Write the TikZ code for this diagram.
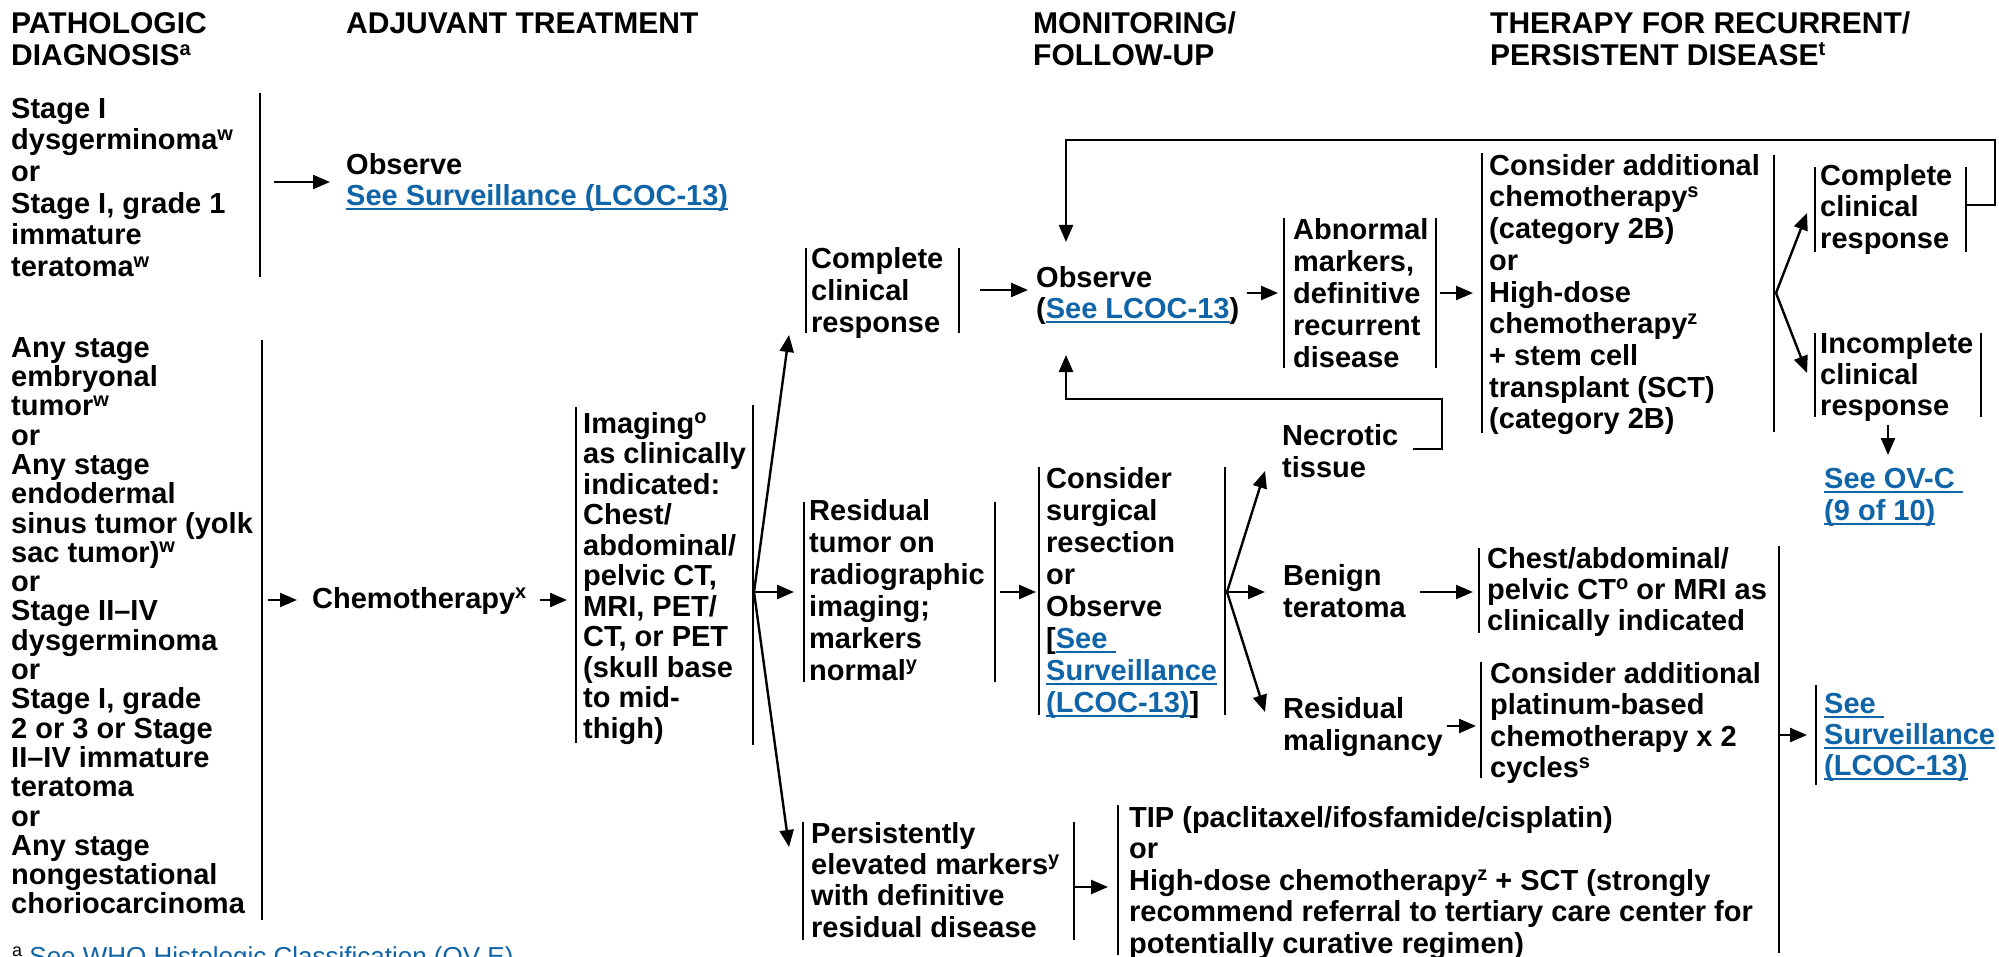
\documentclass[tikz,border=0pt]{standalone}
\usepackage{fontspec}
\setmainfont{Liberation Sans}
\usetikzlibrary{arrows.meta}
\definecolor{linkblue}{RGB}{16,100,168}
\newcommand\supr[1]{\raisebox{9.5pt}{\fontsize{20}{20}\selectfont #1}}
\newcommand\lnk[1]{{\color{linkblue}\setbox0=\hbox{#1}\rlap{\rule[-5pt]{\wd0}{2pt}}\box0}}
\newcommand\fs{\rule{0pt}{26pt}}
\tikzset{
  txt/.style={anchor=north west, inner sep=0pt, align=left,
    font={\fontsize{29}{#1}\selectfont\bfseries\lineskiplimit=-100pt}},
  txt/.default=31.7,
  hdr/.style={anchor=north west, inner sep=0pt, align=left,
    font={\fontsize{30}{32}\selectfont\bfseries}},
  bar/.style={line width=2.4pt},
  arr/.style={line width=2.4pt, -{Triangle[length=17pt,width=14pt]}},
  lp/.style={line width=2.6pt, -{Triangle[length=17pt,width=14pt]}},
}
\begin{document}
\begin{tikzpicture}[x=1pt,y=-1pt]
\useasboundingbox (0,0) rectangle (1999,957);
% headers
\node[hdr] (hPath) at (11,7) {\fs PATHOLOGIC\\DIAGNOSIS\supr{a}};
\node[hdr] (hAdj) at (346,7) {\fs ADJUVANT TREATMENT};
\node[hdr] (hMon) at (1033,7) {\fs MONITORING/\\FOLLOW-UP};
\node[hdr] (hTher) at (1490,7) {\fs THERAPY FOR RECURRENT/\\PERSISTENT DISEASE\supr{t}};
% text nodes
\node[txt] (g1) at (11,92) {\fs Stage I\\dysgerminoma\supr{w}\\or\\Stage I, grade 1\\immature\\teratoma\supr{w}};
\node[txt=31] (obs1) at (346,148) {\fs Observe\\\lnk{See Surveillance (LCOC-13)}};
\node[txt=29.3] (g2) at (11,331) {\fs Any stage\\embryonal\\tumor\supr{w}\\or\\Any stage\\endodermal\\sinus tumor (yolk\\sac tumor)\supr{w}\\or\\Stage II–IV\\dysgerminoma\\or\\Stage I, grade\\2 or 3 or Stage\\II–IV immature\\teratoma\\or\\Any stage\\nongestational\\choriocarcinoma};
\node[txt] (chemo) at (312,582) {\fs Chemotherapy\supr{x}};
\node[txt=30.5] (img) at (583,407) {\fs Imaging\supr{o}\\as clinically\\indicated:\\Chest/\\abdominal/\\pelvic CT,\\MRI, PET/\\CT, or PET\\(skull base\\to mid-\\thigh)};
\node[txt=32] (cr1) at (811,242) {\fs Complete\\clinical\\response};
\node[txt=32] (resid) at (809,494) {\fs Residual\\tumor on\\radiographic\\imaging;\\markers\\normal\supr{y}};
\node[txt=31.3] (pers) at (811,817) {\fs Persistently\\elevated markers\supr{y}\\with definitive\\residual disease};
\node[txt=31] (obs2) at (1036,261) {\fs Observe\\(\lnk{See LCOC-13})};
\node[txt=32] (abn) at (1293,213) {\fs Abnormal\\markers,\\definitive\\recurrent\\disease};
\node[txt=31.7] (cac) at (1489,149) {\fs Consider additional\\chemotherapy\supr{s}\\(category 2B)\\or\\High-dose\\chemotherapy\supr{z}\\+ stem cell\\transplant (SCT)\\(category 2B)};
\node[txt=31.5] (cr2) at (1820,159) {\fs Complete\\clinical\\response};
\node[txt=31] (inc) at (1820,327) {\fs Incomplete\\clinical\\response};
\node[txt=32] (ovc) at (1824,462) {\fs\lnk{See OV-C }\\\lnk{(9 of 10)}};
\node[txt=32] (cons) at (1046,462) {\fs Consider\\surgical\\resection\\or\\Observe\\{[}\lnk{See }\\\lnk{Surveillance}\\\lnk{(LCOC-13)}]};
\node[txt=32] (necro) at (1282,419) {\fs Necrotic\\tissue};
\node[txt=32] (benign) at (1283,559) {\fs Benign\\teratoma};
\node[txt=31] (chest) at (1487,542) {\fs Chest/abdominal/\\pelvic CT\supr{o} or MRI as\\clinically indicated};
\node[txt=32] (malig) at (1283,692) {\fs Residual\\malignancy};
\node[txt=31.5] (plat) at (1490,657) {\fs Consider additional\\platinum-based\\chemotherapy x 2\\cycles\supr{s}};
\node[txt=31] (surv2) at (1824,687) {\fs\lnk{See }\\\lnk{Surveillance}\\\lnk{(LCOC-13)}};
\node[txt=31.5] (tip) at (1129,801) {\fs TIP (paclitaxel/ifosfamide/cisplatin)\\or\\High-dose chemotherapy\supr{z} + SCT (strongly\\recommend referral to tertiary care center for\\potentially curative regimen)};
\node[anchor=north west, inner sep=0pt, font=\fontsize{26}{28}\selectfont] (fn) at (12,939) {\fs\raisebox{9pt}{\fontsize{18}{18}\selectfont a} \textcolor{linkblue}{See WHO Histologic Classification (OV-E)}};
% bars
\coordinate (g1Rt) at (260,93); \coordinate (g1Rb) at (260,277);
\coordinate (g2Rt) at (262,340); \coordinate (g2Rb) at (262,920);
\coordinate (imgLt) at (576,407); \coordinate (imgLb) at (576,743);
\coordinate (imgRt) at (753,405); \coordinate (imgRb) at (753,745);
\coordinate (cr1Lt) at (806,248); \coordinate (cr1Lb) at (806,333);
\coordinate (cr1Rt) at (959,248); \coordinate (cr1Rb) at (959,333);
\coordinate (resLt) at (804,502); \coordinate (resLb) at (804,682);
\coordinate (resRt) at (995,502); \coordinate (resRb) at (995,682);
\coordinate (perLt) at (803,822); \coordinate (perLb) at (803,940);
\coordinate (perRt) at (1074,822); \coordinate (perRb) at (1074,940);
\coordinate (conLt) at (1039,467); \coordinate (conLb) at (1039,715);
\coordinate (conRt) at (1225,467); \coordinate (conRb) at (1225,715);
\coordinate (abnLt) at (1284,218); \coordinate (abnLb) at (1284,368);
\coordinate (abnRt) at (1436,218); \coordinate (abnRb) at (1436,368);
\coordinate (cacLt) at (1482,153); \coordinate (cacLb) at (1482,433);
\coordinate (cacRt) at (1774,155); \coordinate (cacRb) at (1774,432);
\coordinate (cr2Lt) at (1815,167); \coordinate (cr2Lb) at (1815,252);
\coordinate (cr2Rt) at (1966,167); \coordinate (cr2Rb) at (1966,252);
\coordinate (incLt) at (1815,333); \coordinate (incLb) at (1815,417);
\coordinate (incRt) at (1981,333); \coordinate (incRb) at (1981,417);
\coordinate (cheLt) at (1479,548); \coordinate (cheLb) at (1479,633);
\coordinate (plaLt) at (1481,662); \coordinate (plaLb) at (1481,778);
\coordinate (lngt) at (1779,546); \coordinate (lngb) at (1779,953);
\coordinate (surLt) at (1816,685); \coordinate (surLb) at (1816,785);
\coordinate (tipLt) at (1118,805); \coordinate (tipLb) at (1118,955);
\foreach \a/\b in {g1Rt/g1Rb,g2Rt/g2Rb,imgLt/imgLb,imgRt/imgRb,cr1Lt/cr1Lb,cr1Rt/cr1Rb,
  resLt/resLb,resRt/resRb,perLt/perLb,perRt/perRb,conLt/conLb,conRt/conRb,abnLt/abnLb,abnRt/abnRb,
  cacLt/cacLb,cacRt/cacRb,cr2Lt/cr2Lb,cr2Rt/cr2Rb,incLt/incLb,incRt/incRb,cheLt/cheLb,plaLt/plaLb,
  lngt/lngb,surLt/surLb,tipLt/tipLb}
  \draw[bar] (\a) -- (\b);
% arrow anchors
\coordinate (a1s) at (274,182); \coordinate (a1e) at (330,182);
\coordinate (a2s) at (268,600); \coordinate (a2e) at (297,600);
\coordinate (a3s) at (540,600); \coordinate (a3e) at (567,600);
\coordinate (imgO) at (754,592);
\coordinate (toCR1) at (789,335); \coordinate (toRes) at (794,592); \coordinate (toPer) at (789,847);
\coordinate (a4s) at (980,290); \coordinate (a4e) at (1028,290);
\coordinate (a5s) at (1247,293); \coordinate (a5e) at (1278,293);
\coordinate (a6s) at (1440,293); \coordinate (a6e) at (1473,293);
\coordinate (cacO) at (1776,293);
\coordinate (toCR2) at (1807,213); \coordinate (toInc) at (1807,373);
\coordinate (a7s) at (1888,425); \coordinate (a7e) at (1888,455);
\coordinate (a8s) at (1000,592); \coordinate (a8e) at (1036,592);
\coordinate (conO) at (1227,592);
\coordinate (toNec) at (1265,471); \coordinate (toBen) at (1265,592); \coordinate (toMal) at (1265,712);
\coordinate (a9s) at (1420,592); \coordinate (a9e) at (1473,592);
\coordinate (a10s) at (1447,726); \coordinate (a10e) at (1476,726);
\coordinate (a11s) at (1780,735); \coordinate (a11e) at (1807,735);
\coordinate (a12s) at (1075,887); \coordinate (a12e) at (1108,887);
\draw[arr] (a1s) -- (a1e);
\draw[arr] (a2s) -- (a2e);
\draw[arr] (a3s) -- (a3e);
\draw[arr] (imgO) -- (toCR1);
\draw[arr] (imgO) -- (toRes);
\draw[arr] (imgO) -- (toPer);
\draw[arr] (a4s) -- (a4e);
\draw[arr] (a5s) -- (a5e);
\draw[arr] (a6s) -- (a6e);
\draw[arr] (cacO) -- (toCR2);
\draw[arr] (cacO) -- (toInc);
\draw[arr] (a7s) -- (a7e);
\draw[arr] (a8s) -- (a8e);
\draw[arr] (conO) -- (toNec);
\draw[arr] (conO) -- (toBen);
\draw[arr] (conO) -- (toMal);
\draw[arr] (a9s) -- (a9e);
\draw[arr] (a10s) -- (a10e);
\draw[arr] (a11s) -- (a11e);
\draw[arr] (a12s) -- (a12e);
% loops
\coordinate (l1a) at (1966,205); \coordinate (l1b) at (1995,205);
\coordinate (l1c) at (1995,140); \coordinate (l1d) at (1066,140); \coordinate (l1e) at (1066,242);
\draw[lp] (l1a) -- (l1b) -- (l1c) -- (l1d) -- (l1e);
\coordinate (l2a) at (1413,449); \coordinate (l2b) at (1442,449);
\coordinate (l2c) at (1442,399); \coordinate (l2d) at (1066,399); \coordinate (l2e) at (1066,355);
\draw[lp] (l2a) -- (l2b) -- (l2c) -- (l2d) -- (l2e);
\end{tikzpicture}
\end{document}
